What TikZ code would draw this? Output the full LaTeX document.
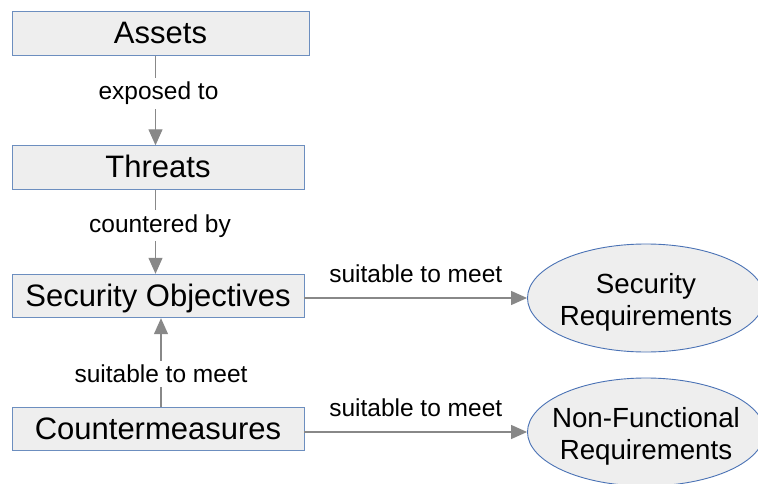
\documentclass[tikz,border=0pt]{standalone}
\usepackage{fontspec}
\setmainfont{Liberation Sans}
\usetikzlibrary{arrows.meta,shapes.geometric}
\definecolor{boxfill}{HTML}{EEEEEE}
\definecolor{boxline}{HTML}{6C8EBF}
\definecolor{ellline}{HTML}{4A72B5}
\definecolor{connline}{HTML}{888888}
\tikzset{
  box/.style={draw=boxline, line width=0.9pt, fill=boxfill, rectangle,
    minimum height=43.5pt, inner sep=0pt, text height=28pt, text depth=7pt,
    font=\fontsize{31}{36}\selectfont},
  req/.style={draw=ellline, line width=0.9pt, fill=boxfill, ellipse,
    minimum width=237pt, minimum height=108pt, inner sep=0pt},
  reqtext/.style={align=center, inner sep=0pt,
    font=\fontsize{27.7}{31.5}\selectfont},
  conn/.style={draw=connline, line width=1.2pt,
    -{Triangle[length=16pt,width=14pt]}, color=connline},
  lbl/.style={fill=white, text=black, inner sep=4pt,
    font=\fontsize{24.5}{28}\selectfont},
  toplbl/.style={midway, yshift=24pt, text=black,
    font=\fontsize{24.5}{28}\selectfont}
}
\begin{document}
\begin{tikzpicture}[x=1pt,y=-1pt]
  \useasboundingbox (0,0) rectangle (758,484);
  \clip (0,0) rectangle (758,484);

  % chain of boxes on the left
  \node[box, minimum width=297pt] (A)  at (160.5,33.5) {Assets};
  \node[box, minimum width=292pt] (T)  at (158,167.5)  {Threats};
  \node[box, minimum width=292pt] (SO) at (158,296)    {Security Objectives};
  \node[box, minimum width=292pt] (CM) at (158,429)    {Countermeasures};

  % requirement ellipses on the right (fixed size, text laid over them)
  \node[req, label={[reqtext, yshift=-4.5pt]center:Security\\Requirements}] (SR) at (646,298) {};
  \node[req, label={[reqtext, yshift=-4.5pt]center:Non-Functional\\Requirements}] (NF) at (646,432) {};

  % x positions of the vertical connectors
  \coordinate (xa) at (155.5,0);
  \coordinate (xb) at (161,0);

  \draw[conn] (A.south -| xa) -- node[lbl, pos=0.42, xshift=3pt] {exposed to} (T.north -| xa);
  \draw[conn] (T.south -| xa) -- node[lbl, pos=0.43, xshift=4.5pt] {countered by} (SO.north -| xa);
  \draw[conn] (CM.north -| xb) -- node[lbl, pos=0.37] {suitable to meet} (SO.south -| xb);

  \draw[conn] (SO.east |- SR.west) -- node[toplbl] {suitable to meet} (SR.west);
  \draw[conn] (CM.east |- NF.west) -- node[toplbl] {suitable to meet} (NF.west);
\end{tikzpicture}
\end{document}
